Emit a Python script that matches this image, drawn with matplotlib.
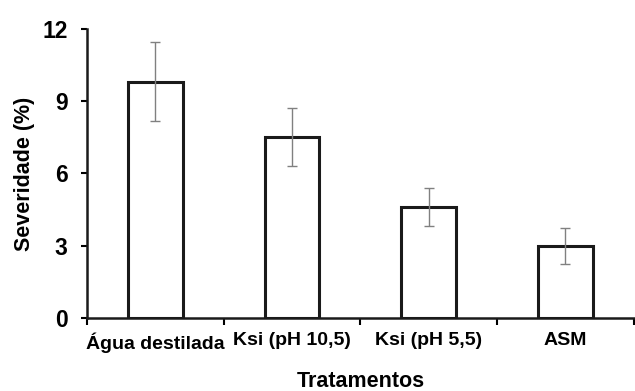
import matplotlib.pyplot as plt
import numpy as np

plt.rcParams['font.family'] = ['Liberation Sans', 'DejaVu Sans']
plt.rcParams['font.weight'] = 'bold'

tratamentos = ['Água destilada', 'Ksi (pH 10,5)', 'Ksi (pH 5,5)', 'ASM']
severidade = [9.8, 7.5, 4.6, 3.0]
erro = [1.65, 1.2, 0.78, 0.75]

fig = plt.figure(figsize=(6.35, 3.91), dpi=100)
ax = fig.add_axes([0.137, 0.186, 0.861, 0.741])

x = np.arange(len(tratamentos))
ax.bar(x, severidade, width=0.4, color='white', edgecolor='#1a1a1a', linewidth=2.2, zorder=2)
ax.errorbar(x, severidade, yerr=erro, fmt='none', ecolor='#808080', elinewidth=1,
            capsize=3.5, capthick=1, zorder=3)

ax.set_xlim(-0.5, 3.5)
ax.set_ylim(0, 12)
ax.set_yticks([0, 3, 6, 9, 12])
ax.set_xticks(x)
ax.set_xticklabels(tratamentos, fontsize=14, fontweight='bold')
ax.set_xticks([-0.5, 0.5, 1.5, 2.5, 3.5], minor=True)
ax.tick_params(axis='x', which='major', length=0, pad=10)
ax.tick_params(axis='x', which='minor', length=5, width=1.5, direction='out')
ax.tick_params(axis='y', length=4, width=1.5, direction='out', labelsize=16.5, pad=10)
for lab in ax.get_yticklabels():
    lab.set_fontweight('bold')

for s in ['top', 'right']:
    ax.spines[s].set_visible(False)
for s in ['left', 'bottom']:
    ax.spines[s].set_linewidth(1.8)
    ax.spines[s].set_color('#1a1a1a')

ax.set_ylabel('Severidade (%)', fontsize=15.5, fontweight='bold', labelpad=5)
ax.set_xlabel('Tratamentos', fontsize=15.5, fontweight='bold', labelpad=13)

fig.savefig('out.png', dpi=100)
